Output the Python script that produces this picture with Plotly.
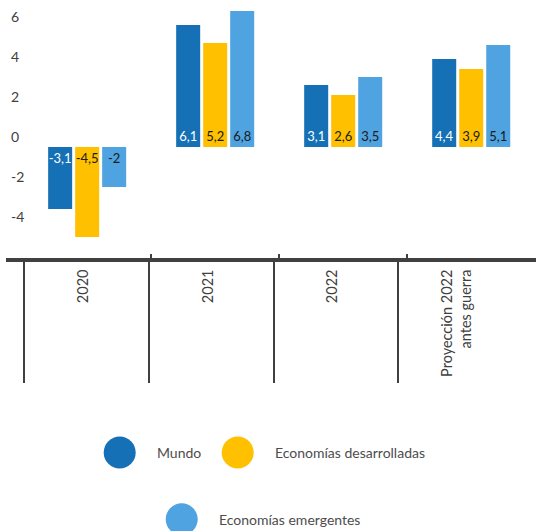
import plotly.graph_objects as go

# Crecimiento del PIB (%)
categorias = ["2020", "2021", "2022", "Proyección 2022<br>antes guerra"]
series = ["Mundo", "Economías desarrolladas", "Economías emergentes"]
mundo = [-3.1, 6.1, 3.1, 4.4]
desarrolladas = [-4.5, 5.2, 2.6, 3.9]
emergentes = [-2.0, 6.8, 3.5, 5.1]
valores = [mundo, desarrolladas, emergentes]

colores = ["#1570b5", "#ffc000", "#4ea3e0"]
colores_texto = ["#ffffff", "#1a1a1a", "#1a1a1a"]
ticks_y = [-4, -2, 0, 2, 4, 6]

W, H = 536, 531
ML, MT = 6, 0
PW, PH = 530, 258
FONT = "Lato"
GRIS = "#404040"


def etiqueta(v):
    return f"{v:g}".replace(".", ",")


def px_x(px):
    return (px - ML) / PW


def px_y(py):
    return (MT + PH - py) / PH


fig = go.Figure()
idx = list(range(len(categorias)))
limites = [i - 0.5 for i in idx]
for nombre, vals, col, tcol in zip(series, valores, colores, colores_texto):
    fig.add_trace(go.Bar(
        x=idx, y=vals, name=nombre,
        marker=dict(color=col, line=dict(width=0)),
        text=[etiqueta(v) for v in vals],
        textposition="inside", insidetextanchor="start",
        textangle=0, constraintext="none",
        textfont=dict(family=FONT, size=13, color=tcol),
        showlegend=False, hoverinfo="skip",
    ))

# Leyenda dibujada a mano (círculos grandes)
leyenda = [(119.7, 452.5), (237.7, 452.5), (181.7, 519.3)]
radio = 16
shapes = []
annotations = []
for (cx, cy), col, nombre in zip(leyenda, colores, series):
    shapes.append(dict(
        type="circle", xref="paper", yref="paper",
        x0=px_x(cx - radio), x1=px_x(cx + radio),
        y0=px_y(cy + radio), y1=px_y(cy - radio),
        fillcolor=col, line=dict(width=0), layer="above",
    ))
    annotations.append(dict(
        xref="paper", yref="paper", x=px_x(cx + radio + 19), y=px_y(cy),
        xanchor="left", yanchor="middle", showarrow=False,
        text=nombre, font=dict(family=FONT, size=14, color="#4d4d4d"),
    ))

fig.update_layout(
    width=W, height=H,
    margin=dict(l=ML, r=W - ML - PW, t=MT, b=H - MT - PH, pad=0),
    paper_bgcolor="white", plot_bgcolor="white",
    barmode="group", bargap=0.367, bargroupgap=0.111,
    separators=",.",
    font=dict(family=FONT, size=14, color=GRIS),
    shapes=shapes, annotations=annotations,
    # eje de las barras: marcas cortas hacia dentro en los límites
    xaxis=dict(
        range=[-0.634, 3.506], tickmode="array",
        tickvals=limites, showticklabels=False,
        ticks="inside", ticklen=4, tickwidth=2, tickcolor=GRIS,
        showgrid=False, zeroline=False, showline=False,
    ),
    # eje de etiquetas de categoría con la línea gruesa
    xaxis2=dict(
        overlaying="x", anchor="y", side="bottom",
        range=[-0.619, 3.632], tickmode="array",
        tickvals=idx, ticktext=categorias, tickangle=-90,
        ticks="", ticklabelstandoff=2,
        tickfont=dict(family=FONT, size=14.5, color=GRIS),
        showline=True, linewidth=3.5, linecolor=GRIS,
        showgrid=False, zeroline=False,
    ),
    # eje de separadores verticales entre categorías
    xaxis3=dict(
        overlaying="x", anchor="y", side="bottom",
        range=[-0.647, 3.604], tickmode="array",
        tickvals=limites, showticklabels=False,
        ticks="outside", ticklen=124, tickwidth=2, tickcolor=GRIS,
        showline=False, showgrid=False, zeroline=False,
    ),
    yaxis=dict(
        range=[-5.55, 7.35], tickmode="array", tickvals=ticks_y,
        ticktext=[str(v) for v in ticks_y],
        ticklabelposition="inside", ticklabelshift=-10,
        ticklabelstandoff=2,
        tickfont=dict(family=FONT, size=14, color=GRIS),
        ticks="", showgrid=False, zeroline=False, showline=False,
    ),
)

# Trazas invisibles para activar los ejes auxiliares
for eje in ("x2", "x3"):
    fig.add_trace(go.Scatter(x=idx, y=[0] * len(idx), xaxis=eje, yaxis="y",
                             mode="markers", marker=dict(opacity=0),
                             showlegend=False, hoverinfo="skip"))

fig.write_html("out.html")
